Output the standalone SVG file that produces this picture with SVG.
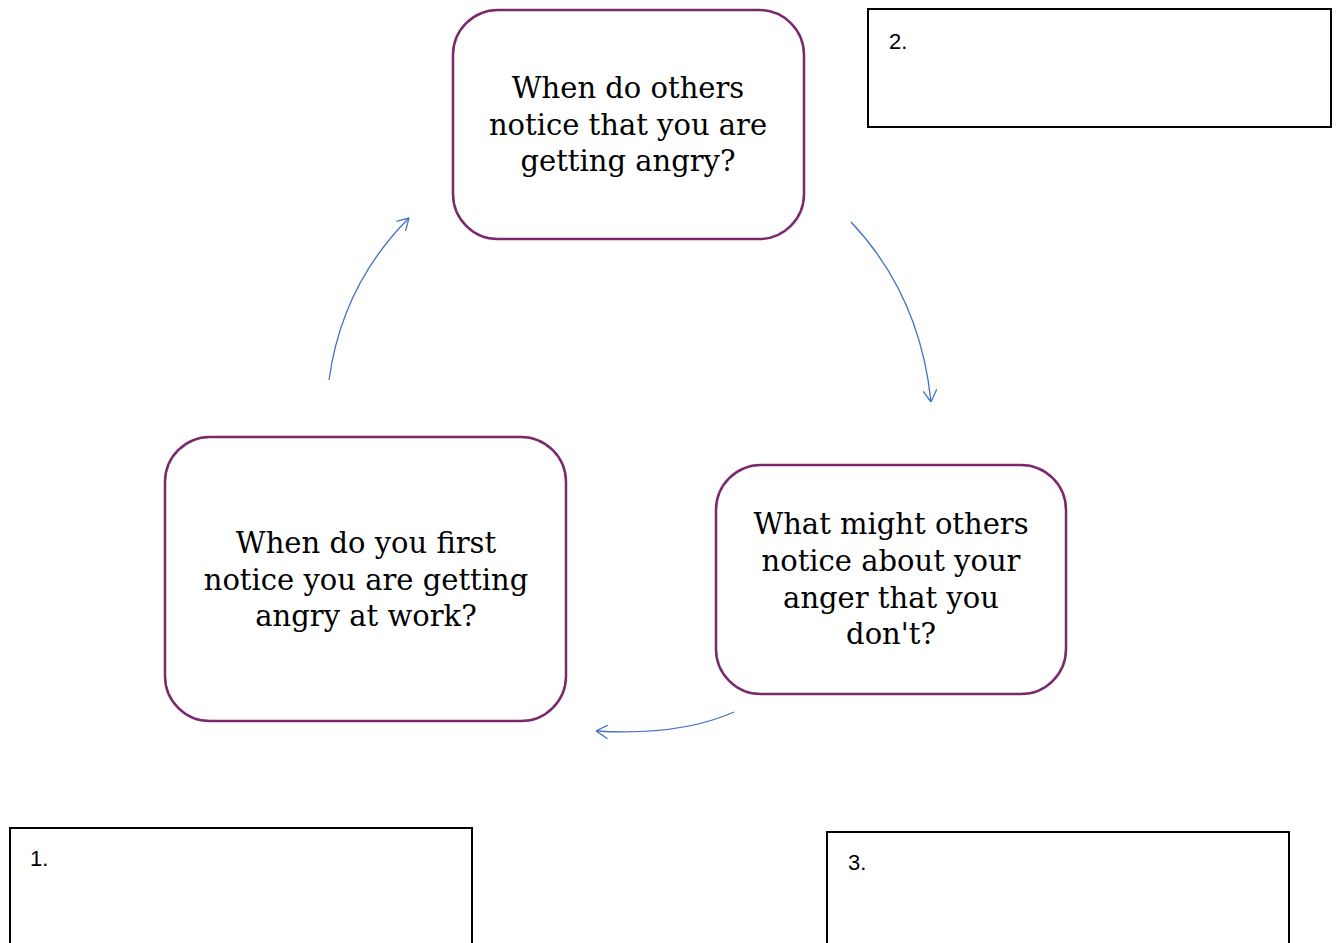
<svg xmlns="http://www.w3.org/2000/svg" width="1338" height="943" viewBox="0 0 1338 943">
<style>
.node{fill:#fff;stroke:#7a2a6c;stroke-width:2.5}
.q{font-family:"DejaVu Serif","Liberation Serif",serif;font-size:29px;fill:#000;text-anchor:middle}
.box{fill:#fff;stroke:#000;stroke-width:2}
.num{font-family:"Liberation Sans","Open Sans",sans-serif;font-size:22px;fill:#000}
.arr{fill:none;stroke:#4472c4;stroke-width:1.3}
</style>
<defs>
<marker id="ah" viewBox="0 0 12 14" refX="12" refY="7" markerWidth="12" markerHeight="14" markerUnits="userSpaceOnUse" orient="auto">
<path d="M0,0 L12,7 L0,14" fill="none" stroke="#4472c4" stroke-width="1.3"/>
</marker>
</defs>
<rect width="1338" height="943" fill="#fff"/>
<g id="box2"><rect class="box" x="868" y="9" width="463" height="118"/><text class="num" x="889" y="49">2.</text></g>
<g id="box1"><path class="box" d="M10,946 V828 H472 V946"/><text class="num" x="30" y="866">1.</text></g>
<g id="box3"><path class="box" d="M827,946 V832 H1289 V946"/><text class="num" x="848" y="870">3.</text></g>
<g id="node-top"><rect class="node" x="453" y="10" width="351" height="229" rx="45"/>
<text class="q" x="628"><tspan x="628" y="98">When do others</tspan><tspan x="628" y="134.5">notice that you are</tspan><tspan x="628" y="171">getting angry?</tspan></text></g>
<g id="node-left"><rect class="node" x="165" y="437" width="401" height="284" rx="45"/>
<text class="q"><tspan x="366" y="553">When do you first</tspan><tspan x="366" y="589.5">notice you are getting</tspan><tspan x="366" y="626">angry at work?</tspan></text></g>
<g id="node-right"><rect class="node" x="716" y="465" width="350" height="229" rx="45"/>
<text class="q"><tspan x="891" y="534">What might others</tspan><tspan x="891" y="571">notice about your</tspan><tspan x="891" y="608">anger that you</tspan><tspan x="891" y="644">don't?</tspan></text></g>
<g id="connectors">
<path class="arr" d="M851,222 Q920,295 931,402" marker-end="url(#ah)"/>
<path class="arr" d="M734,712 Q680,736 596,731" marker-end="url(#ah)"/>
<path class="arr" d="M329,380 Q342,285 409,218" marker-end="url(#ah)"/>
</g>
</svg>
